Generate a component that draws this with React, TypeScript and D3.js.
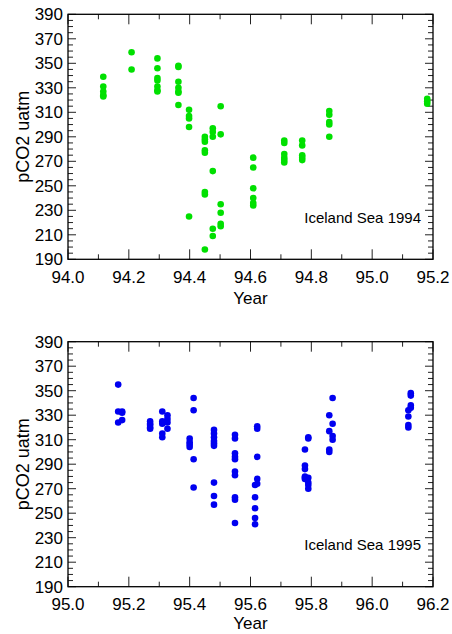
import React from 'react';
import * as d3 from 'd3';

// Iceland Sea 1994 samples (decimal year, pCO2 uatm)
const year94 = [
  94.116, 94.116, 94.116, 94.116, 94.116,
  94.209, 94.209,
  94.294, 94.294, 94.294, 94.294, 94.294, 94.294, 94.294,
  94.363, 94.363, 94.363, 94.363, 94.363, 94.363, 94.363,
  94.398, 94.398, 94.398, 94.398, 94.398,
  94.45, 94.45, 94.45, 94.45, 94.45, 94.45, 94.45, 94.45,
  94.476, 94.476, 94.476, 94.476, 94.476, 94.476,
  94.502, 94.502, 94.502, 94.502, 94.502, 94.502,
  94.609, 94.609, 94.609, 94.609, 94.609, 94.609,
  94.711, 94.711, 94.711, 94.711, 94.711, 94.711,
  94.77, 94.77, 94.77, 94.77, 94.77,
  94.859, 94.859, 94.859, 94.859, 94.859,
  95.181, 95.181, 95.181,
];
const pco2_94 = [
  339, 331, 327, 324, 323,
  359, 345,
  354, 346, 338, 336, 331, 328, 327,
  348, 347, 335, 330, 327, 326, 316,
  312, 307, 305, 298, 225,
  290, 288, 286, 279, 277, 245, 243, 198,
  297, 294, 290, 262, 215, 209,
  315, 292, 235, 228, 219, 217,
  273, 265, 248, 240, 236, 234,
  287, 285, 276, 273, 271, 269,
  287, 283, 275, 273, 271,
  311, 308, 302, 300, 290,
  321, 319, 317,
];

// Iceland Sea 1995 samples
const year95 = [
  95.165, 95.165, 95.165,
  95.178, 95.178, 95.178,
  95.27, 95.27, 95.27, 95.27, 95.27,
  95.31, 95.31, 95.31, 95.31, 95.31,
  95.327, 95.327, 95.327, 95.327,
  95.4, 95.4, 95.4, 95.4,
  95.413, 95.413, 95.413, 95.413,
  95.48, 95.48, 95.48, 95.48, 95.48, 95.48, 95.48, 95.48, 95.48,
  95.549, 95.549, 95.549, 95.549, 95.549, 95.549, 95.549, 95.549, 95.549, 95.549,
  95.615, 95.615, 95.615, 95.615, 95.615,
  95.622, 95.622, 95.622, 95.622, 95.622,
  95.779, 95.779, 95.779, 95.779, 95.779, 95.779,
  95.79, 95.79, 95.79, 95.79, 95.79, 95.79,
  95.859, 95.859, 95.859, 95.859,
  95.87, 95.87, 95.87, 95.87,
  96.119, 96.119, 96.119, 96.119,
  96.127, 96.127, 96.127, 96.127,
];
const pco2_95 = [
  355, 333, 324,
  333, 326, 332,
  325, 323, 322, 320, 319,
  333, 325, 323, 315, 312,
  330, 327, 324, 319,
  311, 308, 306, 304,
  344, 334, 294, 271,
  318, 315, 312, 309, 307, 305, 275, 264, 257,
  314, 311, 299, 296, 294, 284, 281, 263, 261, 242,
  273, 263, 254, 246, 241,
  321, 319, 296, 278, 274,
  302, 289, 286, 280, 279, 278,
  312, 311, 279, 275, 273, 270,
  330, 317, 302, 300,
  344, 323, 313, 310,
  334, 329, 322, 320,
  348, 346, 338, 336,
];

const yTicks = [190, 210, 230, 250, 270, 290, 310, 330, 350, 370, 390];

const W = 452;
const H = 634;
const left = 68;
const right = 433;
const font = 'Arial, "Liberation Sans", Helvetica, sans-serif';

type PanelProps = {
  xs: number[];
  ys: number[];
  x0: number;
  top: number;
  bottom: number;
  color: string;
  label: string;
  yearGap: number;
};

const Panel = ({ xs, ys, x0, top, bottom, color, label, yearGap }: PanelProps) => {
  const x = d3.scaleLinear().domain([x0, x0 + 1.2]).range([left, right]);
  const y = d3.scaleLinear().domain([190, 390]).range([bottom, top]);
  const xMinor = d3.range(13).map((i) => x0 + i * 0.1);
  const yMinor = d3.range(41).map((i) => 190 + i * 5);

  return (
    <g>
      {/* minor + major x ticks, bottom and top, pointing in */}
      {xMinor.map((v, i) => {
        const len = i % 2 === 0 ? 10 : 5;
        const px = x(v);
        return (
          <g key={'xt' + i} stroke="#222" strokeWidth={1}>
            <line x1={px} x2={px} y1={bottom} y2={bottom - len} />
            <line x1={px} x2={px} y1={top} y2={top + len} />
          </g>
        );
      })}
      {yMinor.map((v, i) => {
        const len = v % 20 === 10 ? 8 : 5;
        const py = y(v);
        return (
          <g key={'yt' + i} stroke="#222" strokeWidth={1}>
            <line x1={left} x2={left + len} y1={py} y2={py} />
            <line x1={right} x2={right - len} y1={py} y2={py} />
          </g>
        );
      })}
      <rect x={left} y={top} width={right - left} height={bottom - top}
        fill="none" stroke="#000" strokeWidth={1.3} />

      {xMinor.filter((_, i) => i % 2 === 0).map((v) => (
        <text key={'xl' + v} x={x(v)} y={bottom + 23.5} textAnchor="middle"
          fontSize={17} fontFamily={font} fill="#000">
          {v.toFixed(1)}
        </text>
      ))}
      {yTicks.map((v) => (
        <text key={'yl' + v} x={left - 5} y={y(v)} dy="0.36em" textAnchor="end"
          fontSize={17} fontFamily={font} fill="#000">
          {v}
        </text>
      ))}

      <text x={(left + right) / 2} y={bottom + yearGap} textAnchor="middle"
        fontSize={17} fontFamily={font} fill="#000">Year</text>
      <text transform={`translate(29,${(top + bottom) / 2}) rotate(-90)`}
        textAnchor="middle" fontSize={18} fontFamily={font} fill="#000">
        pCO2 uatm
      </text>

      {xs.map((v, i) => (
        <circle key={'d' + i} cx={x(v)} cy={y(ys[i])} r={3.3} fill={color} />
      ))}

      <text x={right - 12} y={y(224)} dy="0.36em" textAnchor="end"
        fontSize={15} fontFamily={font} fill="#000">{label}</text>
    </g>
  );
};

export default function App() {
  return (
    <svg width={W} height={H} style={{ position: 'absolute', left: 0, top: 0, background: '#fff' }}>
      <Panel xs={year94} ys={pco2_94} x0={94.0} top={14.3} bottom={259.3}
        color="#00e000" label="Iceland Sea 1994" yearGap={45} />
      <Panel xs={year95} ys={pco2_95} x0={95.0} top={341.7} bottom={586.7}
        color="#0000f0" label="Iceland Sea 1995" yearGap={42} />
    </svg>
  );
}
